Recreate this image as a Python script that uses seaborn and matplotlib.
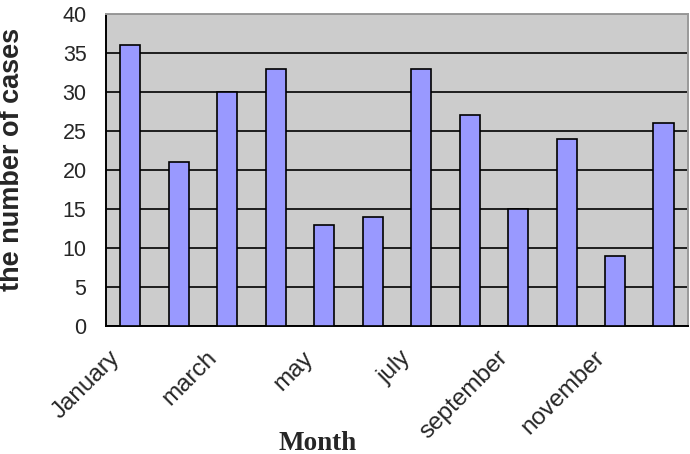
import numpy as np
import pandas as pd
import matplotlib
matplotlib.use('Agg')
import matplotlib.pyplot as plt
import seaborn as sns

months = ['January', 'february', 'march', 'april', 'may', 'june', 'july',
          'august', 'september', 'october', 'november', 'december']
cases = [36, 21, 30, 33, 13, 14, 33, 27, 15, 24, 9, 26]
shown_labels = ['January', '', 'march', '', 'may', '', 'july', '',
                'september', '', 'november', '']
yticks = [0, 5, 10, 15, 20, 25, 30, 35, 40]

data = pd.DataFrame({'month': months, 'cases': cases})

sns.set_style('white')
plt.rcParams['font.family'] = ['Liberation Sans', 'DejaVu Sans']

fig = plt.figure(figsize=(6.9, 4.54), dpi=100)
ax = fig.add_axes([0.1536, 0.282, 0.8434, 0.687])

sns.barplot(data=data, x='month', y='cases', color='#9999FF',
            saturation=1, edgecolor='black', linewidth=1.2, width=0.42,
            ax=ax, zorder=3)

ax.set_facecolor('#CCCCCC')
ax.set_ylim(0, 40)
ax.set_xlim(-0.5, len(months) - 0.5)
ax.set_yticks(yticks)
ax.yaxis.grid(True, color='black', linewidth=1.2, zorder=1)
ax.set_axisbelow(True)

# labels sit a bit left of each category (invisible major ticks),
# visible tick marks between categories (excel style)
ax.set_xticks(np.arange(len(months)) - 0.45)
ax.set_xticklabels(shown_labels, rotation=45, ha='right',
                   rotation_mode='anchor', fontsize=17.5)
ax.set_xticks(np.arange(-0.5, len(months), 1), minor=True)
ax.tick_params(axis='x', which='major', length=0, pad=15)
ax.tick_params(axis='x', which='minor', length=6, width=1.2, color='black',
               direction='out')
ax.tick_params(axis='y', length=8, width=1.2, color='black', direction='out',
               labelsize=15.5, pad=6)

for side in ['left', 'bottom']:
    ax.spines[side].set_color('black')
    ax.spines[side].set_linewidth(1.4)
for side in ['top', 'right']:
    ax.spines[side].set_color('#999999')
    ax.spines[side].set_linewidth(1.4)

ax.set_xlabel('Month', fontsize=19.5, fontweight='bold',
              family=['Liberation Serif', 'DejaVu Serif'])
ax.xaxis.set_label_coords(0.364, -0.337)
ax.set_ylabel('the number of cases', fontsize=19.5, fontweight='bold')
ax.yaxis.set_label_coords(-0.139, 0.535)

fig.savefig('out.png', dpi=100)
